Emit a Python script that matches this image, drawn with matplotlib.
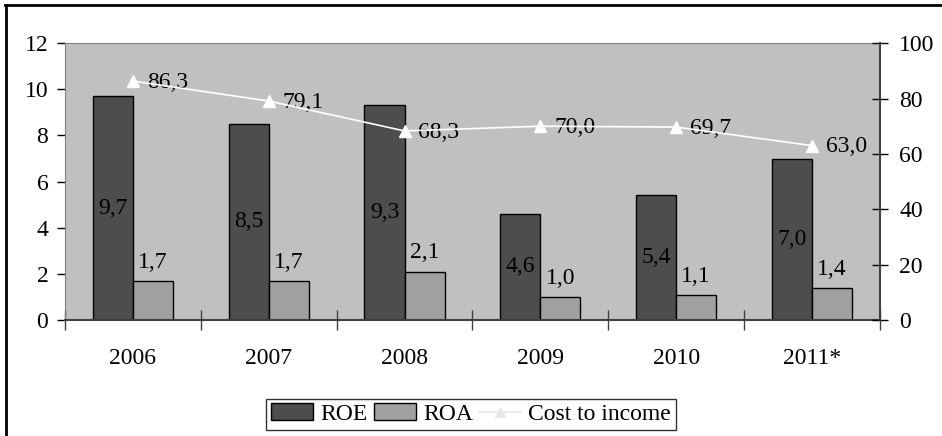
import matplotlib.pyplot as plt
import numpy as np
from matplotlib.lines import Line2D

plt.rcParams['font.family'] = ['Liberation Serif', 'DejaVu Serif']

# datos
years = ['2006', '2007', '2008', '2009', '2010', '2011*']
roe = [9.7, 8.5, 9.3, 4.6, 5.4, 7.0]
roa = [1.7, 1.7, 2.1, 1.0, 1.1, 1.4]
cost_income = [86.3, 79.1, 68.3, 70.0, 69.7, 63.0]

def fmt(v):
    return f'{v:.1f}'.replace('.', ',')

fig = plt.figure(figsize=(9.42, 4.36), dpi=100)
ax = fig.add_axes([0.069, 0.266, 0.865, 0.635])
ax.set_facecolor('#c0c0c0')

x = np.arange(len(years))
w = 0.295
b1 = ax.bar(x - w / 2, roe, w, color='#4d4d4d', edgecolor='black', linewidth=1, label='ROE', zorder=2)
b2 = ax.bar(x + w / 2, roa, w, color='#a0a0a0', edgecolor='black', linewidth=1, label='ROA', zorder=2)

fs = 17
for xi, v in zip(x, roe):
    ax.text(xi - w / 2, v / 2, fmt(v), ha='center', va='center', fontsize=fs, zorder=3)
for xi, v in zip(x, roa):
    ax.text(xi + w / 2, v + 0.35, fmt(v), ha='center', va='bottom', fontsize=fs, zorder=3)

ax.set_xlim(-0.5, len(years) - 0.5)
ax.set_ylim(0, 12)
ax.set_yticks(range(0, 13, 2))
ax.set_xticks(np.arange(-0.5, len(years), 1))
ax.set_xticklabels([])
ax.set_xticks(x, minor=True)
ax.set_xticklabels(years, minor=True, fontsize=fs)
ax.tick_params(axis='x', which='minor', length=0, pad=20)
ax.tick_params(axis='x', which='major', direction='inout', length=15, color='#404040', width=1)
ax.tick_params(axis='y', direction='out', length=6, labelsize=fs, width=1, pad=6)

for s in ['top', 'left']:
    ax.spines[s].set_color('#808080')
ax.spines['bottom'].set_color('#404040')
ax.spines['bottom'].set_linewidth(1.5)
ax.spines['right'].set_visible(False)

# eje secundario
ax2 = ax.twinx()
ax2.plot(x, cost_income, color='white', marker='^', markersize=8, linewidth=1.2,
         label='Cost to income', zorder=4)
for xi, v in zip(x, cost_income):
    ax2.annotate(fmt(v), (xi, v), xytext=(10, -1), textcoords='offset points',
                 ha='left', va='center', fontsize=fs)
ax2.set_ylim(0, 100)
ax2.set_yticks(range(0, 101, 20))
ax2.tick_params(axis='y', direction='inout', length=12, labelsize=fs, width=1, pad=8)
for s in ['top', 'left', 'bottom']:
    ax2.spines[s].set_visible(False)
ax2.spines['right'].set_color('#404040')
ax2.spines['right'].set_linewidth(1.5)

handles = [b1, b2, Line2D([], [], color='#e8e8e8', marker='^', markersize=7, linewidth=1.2)]
leg = fig.legend(handles, ['ROE', 'ROA', 'Cost to income'], loc='center',
                 bbox_to_anchor=(0.5, 0.05), ncol=3, fontsize=fs, frameon=True,
                 fancybox=False, edgecolor='black', handlelength=1.8,
                 handletextpad=0.3, columnspacing=0.25, borderpad=0.2, borderaxespad=0)
leg.get_frame().set_linewidth(1)

# borde exterior
fig.add_artist(Line2D([0.0065, 0.0065], [0, 0.989], color='black', linewidth=2, transform=fig.transFigure))
fig.add_artist(Line2D([0.0055, 1.0], [0.989, 0.989], color='black', linewidth=2, transform=fig.transFigure))

fig.savefig('out.png', dpi=100)
